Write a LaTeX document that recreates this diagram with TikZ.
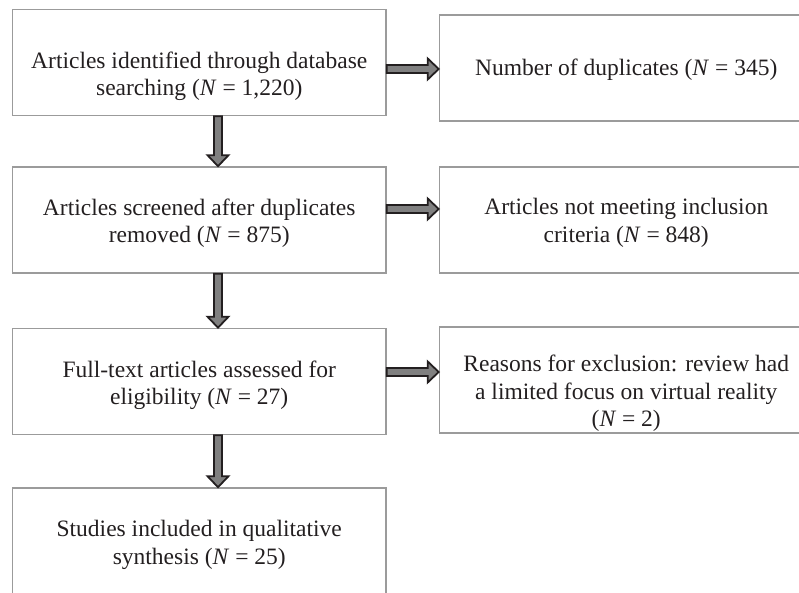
\documentclass[tikz,border=0pt]{standalone}
\usepackage{fontspec}
\setmainfont{Liberation Serif}
\usetikzlibrary{calc}
\definecolor{boxgray}{RGB}{155,155,155}
\definecolor{arrowfill}{RGB}{128,128,128}
\definecolor{arrowline}{RGB}{35,31,32}
\definecolor{ink}{RGB}{35,31,32}
\tikzset{
  boxtext/.style={align=center, text=ink, font=\fontsize{23.5}{27.5}\selectfont, inner sep=0pt},
  every box label/.style={},
  box/.style 2 args={draw=boxgray, line width=1.6pt, minimum width=373.5pt, minimum height=106pt,
    label={[boxtext, yshift=#1, every box label]center:#2}},
  rarrow/.style={draw=arrowline, fill=arrowfill, line width=1.8pt, line join=miter,
    to path={let \p1=(\tikztostart), \p2=(\tikztotarget) in
      (\x1,\y1+4pt) -- (\x2-11pt,\y1+4pt) -- (\x2-11pt,\y1+10.5pt) -- (\x2,\y1)
      -- (\x2-11pt,\y1-10.5pt) -- (\x2-11pt,\y1-4pt) -- (\x1,\y1-4pt) -- cycle}},
  darrow/.style={draw=arrowline, fill=arrowfill, line width=1.8pt, line join=miter,
    to path={let \p1=(\tikztostart), \p2=(\tikztotarget) in
      (\x1-4pt,\y1) -- (\x1-4pt,\y2+11pt) -- (\x1-10.5pt,\y2+11pt) -- (\x1,\y2)
      -- (\x1+10.5pt,\y2+11pt) -- (\x1+4pt,\y2+11pt) -- (\x1+4pt,\y1) -- cycle}}
}
\begin{document}
\begin{tikzpicture}[x=1pt,y=-1pt]
    \useasboundingbox (0,0) rectangle (799,593);
    % left column
    \node[box={-14pt}{Articles identified through database\\searching (\textit{N} = 1,220)}] (ident) at (199.25,62.5) {};
    \node[box={-3pt}{Articles screened after duplicates\\removed (\textit{N} = 875)}] (screen) at (199.25,220) {};
    \node[box={-4pt}{Full-text articles assessed for\\eligibility (\textit{N} = 27)}] (elig) at (199.25,381.5) {};
    \node[box={-4pt}{Studies included in qualitative\\synthesis (\textit{N} = 25)}] (incl) at (199.25,541) {};
    % right column
    \node[box={-2pt}{Number of duplicates (\textit{N} = 345)}] (dupl) at (626.25,68) {};
    \node[box={-3pt}{Articles not meeting inclusion\\criteria (\textit{N} = 848)}] (notmeet) at (626.25,220) {};
    \node[every box label/.style={font=\fontsize{23.5}{25}\selectfont},
      box={-13.5pt}{Reasons for exclusion: review had\\a limited focus on virtual reality\\(\textit{N} = 2)}] (reason) at (626.25,380) {};
    % arrows
    \draw[darrow] ([xshift=18.75pt]ident.south) to (screen.north);
    \draw[darrow] ([xshift=18.75pt]screen.south) to (elig.north);
    \draw[darrow] ([xshift=18.75pt]elig.south) to (incl.north);
    \draw[rarrow] ([yshift=-6.5pt]ident.east) to (dupl.west);
    \draw[rarrow] ([yshift=11pt]screen.east) to (notmeet.west);
    \draw[rarrow] ([yshift=9.5pt]elig.east) to (reason.west);
\end{tikzpicture}
\end{document}
